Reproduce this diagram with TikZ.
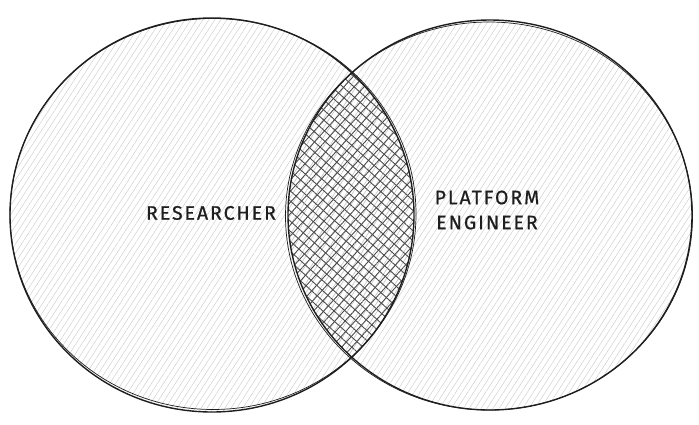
\documentclass[tikz,border=0pt]{standalone}
\usepackage{fontspec}
\setmainfont{Fira Sans}
\newfontfamily\labelfont{Fira Sans}[LetterSpace=10,FakeBold=0.7]
\usetikzlibrary{patterns.meta}
\definecolor{ink}{HTML}{1E1E1E}
\tikzset{
  outline/.style={draw=ink, line width=1.4pt},
  sketch/.style={draw=ink, line width=0.7pt},
  lightfill/.style={pattern={Lines[angle=57,distance=5pt,line width=0.45pt]}, pattern color=black!20},
  crossA/.style={pattern={Lines[angle=48,distance=7.5pt,line width=0.9pt]}, pattern color=black!70},
  crossB/.style={pattern={Lines[angle=-42,distance=7.5pt,line width=0.9pt]}, pattern color=black!70},
  label/.style={text=ink, font=\labelfont\fontsize{19.5}{25}\selectfont, align=center, inner sep=0pt}
}
\begin{document}
\begin{tikzpicture}[x=1pt,y=-1pt]
\useasboundingbox (0,0) rectangle (699,424);
% fills
\fill[lightfill] (212,215) ellipse [x radius=202, y radius=197];
\fill[lightfill] (490,215) ellipse [x radius=202, y radius=195];
\begin{scope}
  \clip (212,215) ellipse [x radius=202, y radius=197];
  \fill[crossA] (490,215) ellipse [x radius=202, y radius=195];
  \fill[crossB] (490,215) ellipse [x radius=202, y radius=195];
\end{scope}
% outlines
\draw[outline] (212,215) ellipse [x radius=202, y radius=197];
\draw[sketch] (213,214) ellipse [x radius=203, y radius=195.5];
\draw[outline] (490,215) ellipse [x radius=202, y radius=195];
\draw[sketch] (489,216) ellipse [x radius=203.5, y radius=194];
% labels
\node[label] (researcher) at (211,213) {RESEARCHER};
\node[label] (platform) at (487,210) {PLATFORM\\ENGINEER};
\end{tikzpicture}
\end{document}
